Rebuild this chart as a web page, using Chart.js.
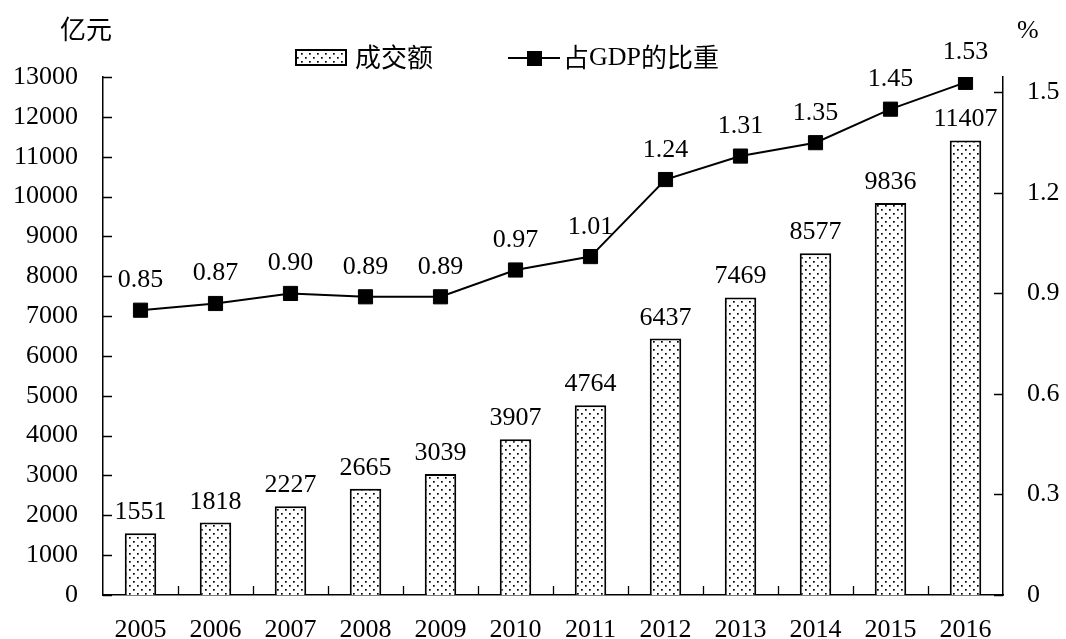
<!DOCTYPE html>
<html>
<head>
<meta charset="utf-8">
<script src="https://cdn.jsdelivr.net/npm/chart.js@4.4.1/dist/chart.umd.min.js"></script>
<style>
html,body{margin:0;padding:0;background:#fff;}
#wrap{width:1066px;height:639px;position:relative;}
</style>
</head>
<body>
<div id="wrap"><canvas id="c" width="1066" height="639"></canvas></div>
<script>
const years = ['2005','2006','2007','2008','2009','2010','2011','2012','2013','2014','2015','2016'];
const turnover = [1551,1818,2227,2665,3039,3907,4764,6437,7469,8577,9836,11407];
const gdpShare = [0.85,0.87,0.90,0.89,0.89,0.97,1.01,1.24,1.31,1.35,1.45,1.53];
const leftTicks = [0,1000,2000,3000,4000,5000,6000,7000,8000,9000,10000,11000,12000,13000];
const rightTicks = [0,0.3,0.6,0.9,1.2,1.5];
const barName = '成交额';
const lineName = '占GDP的比重';
const leftUnit = '亿元';
const rightUnit = '%';

const SERIF = '"Liberation Serif","Times New Roman",serif';
const CJK = '"Noto Sans CJK SC","Noto Sans CJK JP",sans-serif';

function makePattern(){
  const t = document.createElement('canvas');
  t.width = 8; t.height = 8;
  const g = t.getContext('2d');
  g.fillStyle = '#fff'; g.fillRect(0,0,8,8);
  g.fillStyle = '#000';
  g.fillRect(1,1,1.7,1.7);
  g.fillRect(5,5,1.7,1.7);
  return g.createPattern(t,'repeat');
}
const pattern = makePattern();

const extras = {
  id:'extras',
  afterDraw(chart){
    const ctx = chart.ctx;
    const ca = chart.chartArea;
    const xs = chart.scales.x, yl = chart.scales.y, yr = chart.scales.y1;
    ctx.save();
    // tick marks (inward)
    ctx.strokeStyle = '#000'; ctx.lineWidth = 1.3;
    ctx.beginPath();
    leftTicks.forEach(v=>{ const y = Math.round(yl.getPixelForValue(v))+0.5; ctx.moveTo(ca.left, y); ctx.lineTo(ca.left+9, y); });
    rightTicks.forEach(v=>{ const y = Math.round(yr.getPixelForValue(v))+0.5; ctx.moveTo(ca.right, y); ctx.lineTo(ca.right-9, y); });
    for(let i=1;i<years.length;i++){
      const x = Math.round((xs.getPixelForValue(i-1)+xs.getPixelForValue(i))/2)+0.5;
      ctx.moveTo(x, ca.bottom); ctx.lineTo(x, ca.bottom-9);
    }
    ctx.stroke();

    // data labels
    ctx.fillStyle = '#000';
    ctx.font = '26px '+SERIF;
    ctx.textAlign = 'center'; ctx.textBaseline = 'alphabetic';
    const bm = chart.getDatasetMeta(0);
    bm.data.forEach((el,i)=>{ ctx.fillText(String(turnover[i]), el.x, el.y-14); });
    const lm = chart.getDatasetMeta(1);
    lm.data.forEach((el,i)=>{ ctx.fillText(gdpShare[i].toFixed(2), el.x, el.y-23); });

    // unit labels
    ctx.font = '26px '+CJK; ctx.textAlign='left'; ctx.textBaseline='middle';
    ctx.fillText(leftUnit, 60, 29);
    ctx.font = '26px '+SERIF;
    ctx.fillText(rightUnit, 1017, 31);

    // legend
    ctx.fillStyle = pattern; ctx.fillRect(296,50,50,15);
    ctx.strokeStyle='#000'; ctx.lineWidth=2; ctx.strokeRect(296,50,50,15);
    ctx.fillStyle='#000';
    ctx.font = '26px '+CJK; ctx.textBaseline='middle';
    ctx.fillText(barName, 355, 57);
    ctx.beginPath(); ctx.moveTo(508,58); ctx.lineTo(560,58); ctx.lineWidth=2; ctx.stroke();
    ctx.fillRect(527,51,15,15);
    // mixed text: 占 GDP 的比重
    let x = 563;
    ctx.font = '26px '+CJK; ctx.fillText('占', x, 57); x += ctx.measureText('占').width;
    ctx.font = '26px '+SERIF; ctx.fillText('GDP', x, 58); x += ctx.measureText('GDP').width;
    ctx.font = '26px '+CJK; ctx.fillText('的比重', x, 57);
    ctx.restore();
  }
};

new Chart(document.getElementById('c'), {
  data:{
    labels: years,
    datasets:[
      {type:'bar', label:barName, data:turnover, yAxisID:'y', backgroundColor:pattern, borderColor:'#000', borderWidth:2, barPercentage:0.42, categoryPercentage:1, order:2},
      {type:'line', label:lineName, data:gdpShare, yAxisID:'y1', borderColor:'#000', borderWidth:2, pointStyle:'rect', pointRadius:10, pointHoverRadius:10, pointBackgroundColor:'#000', pointBorderColor:'#000', pointBorderWidth:1, tension:0, order:1}
    ]
  },
  options:{
    responsive:false, animation:false, devicePixelRatio:1,
    layout:{padding:{top:77,left:0,right:0,bottom:0}},
    plugins:{legend:{display:false}, tooltip:{enabled:false}},
    scales:{
      x:{
        grid:{display:false, drawTicks:false}, border:{display:true,color:'#000',width:1.5},
        ticks:{color:'#000', font:{family:SERIF,size:26}, padding:20, maxRotation:0, autoSkip:false},
        afterFit(s){ s.height = 44; }
      },
      y:{
        position:'left', min:0, max:13000,
        grid:{display:false, drawTicks:false}, border:{display:true,color:'#000',width:1.5},
        ticks:{color:'#000', font:{family:SERIF,size:26}, padding:25, callback:(v)=>String(v)},
        afterBuildTicks(s){ s.ticks = leftTicks.map(v=>({value:v})); },
        afterFit(s){ s.width = 103; }
      },
      y1:{
        position:'right', min:0, max:1.546,
        grid:{display:false, drawTicks:false}, border:{display:true,color:'#000',width:1.5},
        ticks:{color:'#000', font:{family:SERIF,size:26}, padding:24, callback:(v)=> v===0?'0':Number(v).toFixed(1)},
        afterBuildTicks(s){ s.ticks = rightTicks.map(v=>({value:v})); },
        afterFit(s){ s.width = 63; }
      }
    }
  },
  plugins:[extras]
});
</script>
</body>
</html>
